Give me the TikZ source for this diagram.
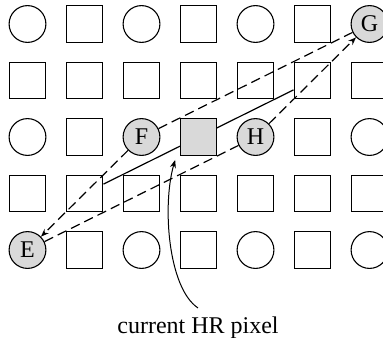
\documentclass[tikz,border=0pt]{standalone}
\usepackage{fontspec}
\setmainfont{Liberation Serif}
\usetikzlibrary{arrows.meta,backgrounds}
\begin{document}
\begin{tikzpicture}[x=0.5pt,y=-0.5pt,
  cell/.style={draw,line width=0.55pt,minimum size=18.4pt,inner sep=0pt},
  sq/.style={cell,rectangle},
  cc/.style={cell,circle},
  hi/.style={fill=gray!30},
  lab/.style={font=\fontsize{12}{14}\selectfont},
  dline/.style={line width=0.6pt,dash pattern=on 4.8pt off 2.6pt},
  sline/.style={line width=0.6pt},
  tip/.style={-{Stealth[length=4pt,width=3pt]}}
]
\useasboundingbox (0,0) rectangle (383,337);
% row 1
\node[cc] (n11) at (27.5,24) {};
\node[sq] (n12) at (84.5,24) {};
\node[cc] (n13) at (141.5,24) {};
\node[sq] (n14) at (198.5,24) {};
\node[cc] (n15) at (255.5,24) {};
\node[sq] (n16) at (312.5,24) {};
\node[cc,hi,lab] (G) at (369.5,24) {G};
% row 2
\node[sq] (n21) at (27.5,80.5) {};
\node[sq] (n22) at (84.5,80.5) {};
\node[sq] (n23) at (141.5,80.5) {};
\node[sq] (n24) at (198.5,80.5) {};
\node[sq] (n25) at (255.5,80.5) {};
\node[sq] (n26) at (312.5,80.5) {};
\node[sq] (n27) at (369.5,80.5) {};
% row 3
\node[cc] (n31) at (27.5,137) {};
\node[sq] (n32) at (84.5,137) {};
\node[cc,hi,lab] (F) at (141.5,137) {F};
\node[sq,hi] (cur) at (198.5,137) {};
\node[cc,hi,lab] (H) at (255.5,137) {H};
\node[sq] (n36) at (312.5,137) {};
\node[cc] (n37) at (369.5,137) {};
% row 4
\node[sq] (n41) at (27.5,193.5) {};
\node[sq] (n42) at (84.5,193.5) {};
\node[sq] (n43) at (141.5,193.5) {};
\node[sq] (n44) at (198.5,193.5) {};
\node[sq] (n45) at (255.5,193.5) {};
\node[sq] (n46) at (312.5,193.5) {};
\node[sq] (n47) at (369.5,193.5) {};
% row 5
\node[cc,hi,lab] (E) at (27.5,250) {E};
\node[sq] (n52) at (84.5,250) {};
\node[cc] (n53) at (141.5,250) {};
\node[sq] (n54) at (198.5,250) {};
\node[cc] (n55) at (255.5,250) {};
\node[sq] (n56) at (312.5,250) {};
\node[cc] (n57) at (369.5,250) {};
% label
\node[lab,anchor=base,inner sep=4pt] (lbl) at (198,333) {current HR pixel};
\begin{pgfonlayer}{background}
\draw[sline] (n42) -- (n26);
\draw[dline,tip] (F) -- (E);
\draw[dline] (E) -- (H);
\draw[dline] (F) -- (G);
\draw[dline,tip] (H) -- (G);
\end{pgfonlayer}
\draw[line width=0.5pt,tip] (lbl.north) .. controls (168,288) and (162,205) .. ([xshift=-2.2pt,yshift=-2pt]cur.south west);
\end{tikzpicture}
\end{document}
